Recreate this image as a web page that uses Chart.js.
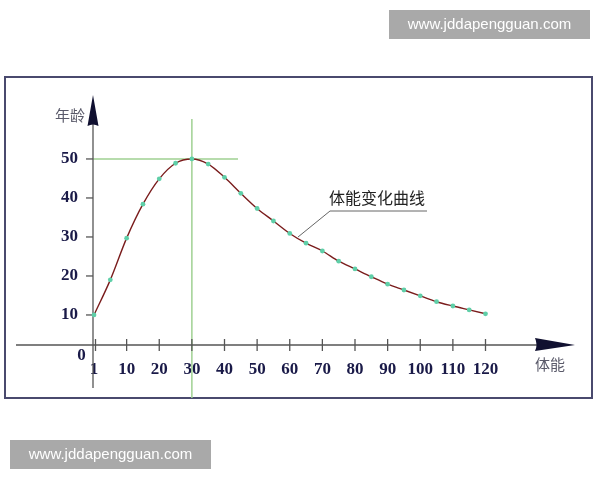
<!DOCTYPE html>
<html>
<head>
<meta charset="utf-8">
<script src="https://cdn.jsdelivr.net/npm/chart.js@4"></script>
<style>
html,body{margin:0;padding:0;background:#fff;}
#wrap{position:relative;width:600px;height:480px;}
canvas{display:block;}
</style>
</head>
<body>
<div id="wrap"><canvas id="c" width="600" height="480"></canvas></div>
<script>
// 体能 (x) values and 年龄 (y) values
const xValues = [0,5,10,15,20,25,30,35,40,45,50,55,60,65,70,75,80,85,90,95,100,105,110,115,120];
const yValues = [10,19,29.7,38.4,44.9,48.9,50,48.7,45.3,41.2,37.3,34.1,30.9,28.4,26.4,23.8,21.8,19.8,17.9,16.4,14.9,13.4,12.3,11.3,10.3];
const xTicks = [0,10,20,30,40,50,60,70,80,90,100,110,120];
const xTickLabels = ['1','10','20','30','40','50','60','70','80','90','100','110','120'];
const yTicks = [10,20,30,40,50];
const peakX = 30, peakY = 50;
const curveLabel = '体能变化曲线';
const yTitle = '年龄';
const xTitle = '体能';
const watermark = 'www.jddapengguan.com';

const points = xValues.map((x,i)=>({x:x,y:yValues[i]}));

const decor = {
  id:'decor',
  beforeDraw(chart){
    const ctx = chart.ctx;
    ctx.save();
    ctx.fillStyle='#fff';
    ctx.fillRect(0,0,chart.width,chart.height);
    // frame
    ctx.strokeStyle='#4a4a6e';
    ctx.lineWidth=2;
    ctx.strokeRect(5,77,587,321);
    ctx.restore();
  },
  beforeDatasetsDraw(chart){
    const ctx = chart.ctx, xs = chart.scales.x, ys = chart.scales.y;
    const ox = xs.getPixelForValue(0) - 1;
    const oy = chart.chartArea.bottom;
    ctx.save();
    // green guide lines
    ctx.strokeStyle='#9fd092';
    ctx.lineWidth=1.5;
    const px = xs.getPixelForValue(peakX), py = ys.getPixelForValue(peakY);
    ctx.beginPath(); ctx.moveTo(px,119); ctx.lineTo(px,398); ctx.stroke();
    ctx.beginPath(); ctx.moveTo(ox,py); ctx.lineTo(238,py); ctx.stroke();
    // axes
    ctx.strokeStyle='#555';
    ctx.lineWidth=1.3;
    ctx.beginPath(); ctx.moveTo(16,oy); ctx.lineTo(540,oy); ctx.stroke();
    ctx.beginPath(); ctx.moveTo(ox,388); ctx.lineTo(ox,120); ctx.stroke();
    // x tick marks crossing axis
    xTicks.forEach(v=>{
      const x = xs.getPixelForValue(v) + (v===0 ? 1.5 : 0);
      ctx.beginPath(); ctx.moveTo(x,oy-6); ctx.lineTo(x,oy+6); ctx.stroke();
    });
    // y tick marks
    yTicks.forEach(v=>{
      const y = ys.getPixelForValue(v);
      ctx.beginPath(); ctx.moveTo(ox-7,y); ctx.lineTo(ox,y); ctx.stroke();
    });
    // arrows
    ctx.fillStyle='#101030';
    ctx.beginPath();
    ctx.moveTo(535,oy-7); ctx.lineTo(575,oy); ctx.lineTo(535,oy+6); ctx.quadraticCurveTo(538,oy,535,oy-7);
    ctx.fill();
    ctx.beginPath();
    ctx.moveTo(ox,95); ctx.lineTo(ox+5.5,126); ctx.quadraticCurveTo(ox,123,ox-5.5,126); ctx.closePath();
    ctx.fill();
    // axis titles
    ctx.fillStyle='#5a5a6a';
    ctx.font='15px "Noto Sans CJK SC"';
    ctx.textAlign='left'; ctx.textBaseline='middle';
    ctx.fillText(yTitle,55,115);
    ctx.fillText(xTitle,535,364);
    // origin 0
    ctx.fillStyle='#1a1a48';
    ctx.font='bold 17px "Liberation Serif"';
    ctx.textAlign='center';
    ctx.fillText('0',81.5,356);
    // curve annotation
    ctx.fillStyle='#222';
    ctx.font='16px "Noto Sans CJK SC"';
    ctx.textAlign='left';
    ctx.fillText(curveLabel,329,198);
    ctx.strokeStyle='#666';
    ctx.lineWidth=1;
    ctx.beginPath(); ctx.moveTo(427,211); ctx.lineTo(330,211); ctx.lineTo(298,237); ctx.stroke();
    ctx.restore();
  },
  afterDraw(chart){
    const ctx = chart.ctx;
    ctx.save();
    ctx.fillStyle='#a9a9a9';
    ctx.fillRect(389,10,201,29);
    ctx.fillRect(10,440,201,29);
    ctx.fillStyle='#fff';
    ctx.font='15px "Liberation Sans"';
    ctx.textAlign='center'; ctx.textBaseline='middle';
    ctx.fillText(watermark,489.5,25);
    ctx.fillText(watermark,110.5,455);
    ctx.restore();
  }
};

new Chart(document.getElementById('c'),{
  type:'scatter',
  data:{datasets:[{
    data:points,
    showLine:true,
    borderColor:'#7a1c1c',
    borderWidth:1.4,
    tension:0.4,
    cubicInterpolationMode:'monotone',
    pointRadius:2.4,
    pointBackgroundColor:'#5fcfa8',
    pointBorderColor:'#5fcfa8',
    pointBorderWidth:0,
    clip:false
  }]},
  options:{
    responsive:false,
    animation:false,
    devicePixelRatio:1,
    layout:{padding:{top:95,right:114.5,left:0,bottom:0}},
    plugins:{legend:{display:false},tooltip:{enabled:false}},
    scales:{
      x:{
        type:'linear', min:0, max:120,
        afterBuildTicks(s){ s.ticks = xTicks.map(v=>({value:v})); },
        afterFit(s){ s.height = 135; },
        border:{display:false},
        grid:{drawOnChartArea:false, drawTicks:true, tickLength:6, color:'rgba(0,0,0,0)'},
        ticks:{
          padding:8, maxRotation:0, autoSkip:false,
          color:'#1a1a48',
          font:{family:'"Liberation Serif"', size:17, weight:'bold'},
          callback(v){ const i = xTicks.indexOf(v); return i>=0 ? xTickLabels[i] : ''; }
        }
      },
      y:{
        type:'linear', min:2.3, max:66.4,
        afterBuildTicks(s){ s.ticks = yTicks.map(v=>({value:v})); },
        afterFit(s){ s.width = 94; },
        border:{display:false},
        grid:{drawOnChartArea:false, drawTicks:true, tickLength:8, color:'rgba(0,0,0,0)'},
        ticks:{
          padding:8,
          color:'#1a1a48',
          font:{family:'"Liberation Serif"', size:17, weight:'bold'}
        }
      }
    }
  },
  plugins:[decor]
});
</script>
</body>
</html>
